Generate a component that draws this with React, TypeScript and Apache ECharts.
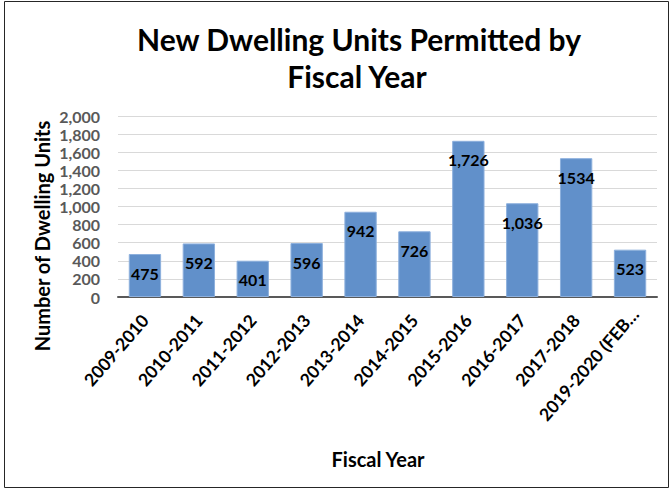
import React, { useEffect, useRef } from "react";
import * as echarts from "echarts";

const categories = [
  "2009-2010",
  "2010-2011",
  "2011-2012",
  "2012-2013",
  "2013-2014",
  "2014-2015",
  "2015-2016",
  "2016-2017",
  "2017-2018",
  "2019-2020 (FEB…",
];
const values = [475, 592, 401, 596, 942, 726, 1726, 1036, 1534, 523];
const valueLabels = ["475", "592", "401", "596", "942", "726", "1,726", "1,036", "1534", "523"];
const titleLines = ["New Dwelling Units Permitted by", "Fiscal Year"];
const yAxisTitle = "Number of Dwelling Units";
const xAxisTitle = "Fiscal Year";

const FONT = "Lato, 'Open Sans', sans-serif";

export default function App() {
  const ref = useRef<HTMLDivElement>(null);
  useEffect(() => {
    if (!ref.current) return;
    const chart = echarts.init(ref.current, undefined, { renderer: "svg" });
    const catData = categories.map((c, i) =>
      i === categories.length - 1
        ? { value: c, textStyle: { padding: [0, -8, 0, 0] } }
        : c
    );
    chart.setOption({
      animation: false,
      backgroundColor: "#ffffff",
      textStyle: { fontFamily: FONT },
      graphic: [
        {
          type: "rect",
          shape: { x: 4.5, y: 1.5, width: 664, height: 486 },
          style: { fill: "none", stroke: "#262626", lineWidth: 1 },
          silent: true,
        },
        {
          type: "text",
          x: 359,
          y: 39,
          style: {
            text: titleLines[0],
            fontFamily: FONT,
            fontWeight: "bold",
            fontSize: 30,
            fill: "#000",
            textAlign: "center",
            textVerticalAlign: "middle",
          },
        },
        {
          type: "text",
          x: 357,
          y: 76,
          style: {
            text: titleLines[1],
            fontFamily: FONT,
            fontWeight: "bold",
            fontSize: 30,
            fill: "#000",
            textAlign: "center",
            textVerticalAlign: "middle",
          },
        },
        {
          type: "text",
          x: 42,
          y: 236,
          rotation: Math.PI / 2,
          style: {
            text: yAxisTitle,
            fontFamily: FONT,
            fontWeight: "bold",
            fontSize: 20,
            fill: "#000",
            textAlign: "center",
            textVerticalAlign: "middle",
          },
        },
        {
          type: "text",
          x: 378,
          y: 459,
          style: {
            text: xAxisTitle,
            fontFamily: FONT,
            fontWeight: "bold",
            fontSize: 20,
            fill: "#000",
            textAlign: "center",
            textVerticalAlign: "middle",
          },
        },
      ],
      grid: { left: 118, right: 15, top: 116, bottom: 192, containLabel: false },
      xAxis: {
        type: "category",
        data: catData,
        axisLine: { show: true, lineStyle: { color: "#595959", width: 2 } },
        axisTick: { show: false },
        axisLabel: {
          rotate: 49,
          interval: 0,
          margin: 20,
          color: "#000",
          fontWeight: "bold",
          fontSize: 17.5,
          fontFamily: FONT,
        },
      },
      yAxis: {
        type: "value",
        min: 0,
        max: 2000,
        interval: 200,
        axisLine: { show: false },
        axisTick: { show: false },
        splitLine: { lineStyle: { color: "#D9D9D9", width: 1 } },
        axisLabel: {
          margin: 18,
          color: "#595959",
          fontWeight: "bold",
          fontSize: 16,
          fontFamily: FONT,
          formatter: (v: number) => v.toLocaleString("en-US"),
        },
      },
      series: [
        {
          type: "bar",
          data: values,
          barCategoryGap: "40%",
          itemStyle: { color: "#6190CA", borderColor: "#8DB0DD", borderWidth: 1 },
          label: {
            show: true,
            position: "insideTop",
            distance: 11,
            color: "#000",
            fontWeight: "bold",
            fontSize: 16,
            fontFamily: FONT,
            formatter: (p: any) => valueLabels[p.dataIndex],
          },
        },
      ],
    });
    return () => chart.dispose();
  }, []);
  return (
    <div
      ref={ref}
      style={{ position: "fixed", left: 0, top: 0, width: 672, height: 489 }}
    />
  );
}
